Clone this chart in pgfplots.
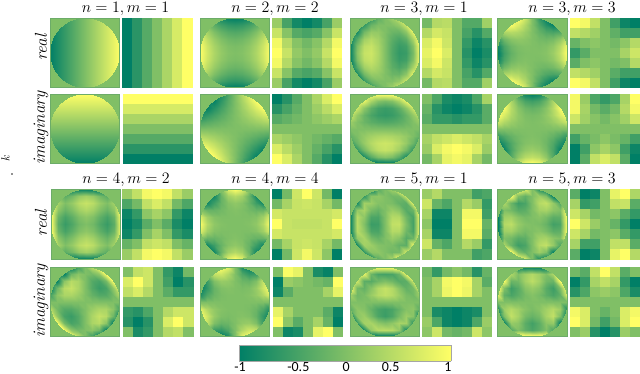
\documentclass[border=0pt]{standalone}
\usepackage{fontspec}
\newfontfamily\cbfont{Carlito}
\usepackage{pgfplots}
\pgfplotsset{compat=1.18}
\definecolor{bgz}{rgb}{0.5,0.75,0.4}
\definecolor{edgez}{RGB}{108,172,104}
\pgfplotsset{
  colormap={zern}{rgb255=(0,127,102) rgb255=(255,255,102)},
  panel/.style={hide axis, scale only axis, width=69.5bp, height=69.5bp, anchor=south west,
    colormap name=zern, point meta min=-1, point meta max=1},
}
% circle panel: 11x11 values, top row first, x and y from -1 to 1
\newcommand{\zcirc}[3]{%
  \fill[bgz] (#1bp,#2bp) rectangle ++(69.5bp,69.5bp);
  \begin{scope}
  \clip (#1bp+34.75bp,#2bp+34.75bp) circle[radius=34.75bp];
  \begin{axis}[panel, at={(#1bp,#2bp)}, xmin=-1, xmax=1, ymin=-1, ymax=1, view={0}{90}]
  \addplot3[surf, shader=interp, mesh/cols=11, point meta=z]
    table[row sep=\\, header=false, x expr={-1+0.2*mod(\coordindex,11)}, y expr={1-0.2*floor((\coordindex+0.5)/11)}, z index=0] {#3};
  \end{axis}
  \end{scope}
  \draw[edgez, line width=0.6bp] (#1bp,#2bp) rectangle ++(69.5bp,69.5bp);
}
% pixel panel: 7x7 values, top row first, one square per cell
\newcommand{\zpix}[3]{%
  \begin{axis}[panel, at={(#1bp,#2bp)}, xmin=-0.5, xmax=6.5, ymin=-0.5, ymax=6.5, y dir=reverse]
  \addplot[scatter, only marks, mark=square*, mark size=4.965bp, point meta=explicit,
    scatter/use mapped color={draw=mapped color, fill=mapped color}, line width=0.1bp]
    table[row sep=\\, header=false, x expr={mod(\coordindex,7)}, y expr={floor((\coordindex+0.5)/7)}, meta index=0] {#3};
  \end{axis}
}
\begin{document}
\begin{tikzpicture}
\path[use as bounding box] (0bp,0bp) rectangle (640bp,374bp);

% n=1, m=1
\zcirc{50}{286.5}{
-1\\-.8\\-.6\\-.4\\-.2\\0\\.2\\.4\\.6\\.8\\1\\
-1\\-.8\\-.6\\-.4\\-.2\\0\\.2\\.4\\.6\\.8\\1\\
-1\\-.8\\-.6\\-.4\\-.2\\0\\.2\\.4\\.6\\.8\\1\\
-1\\-.8\\-.6\\-.4\\-.2\\0\\.2\\.4\\.6\\.8\\1\\
-1\\-.8\\-.6\\-.4\\-.2\\0\\.2\\.4\\.6\\.8\\1\\
-1\\-.8\\-.6\\-.4\\-.2\\0\\.2\\.4\\.6\\.8\\1\\
-1\\-.8\\-.6\\-.4\\-.2\\0\\.2\\.4\\.6\\.8\\1\\
-1\\-.8\\-.6\\-.4\\-.2\\0\\.2\\.4\\.6\\.8\\1\\
-1\\-.8\\-.6\\-.4\\-.2\\0\\.2\\.4\\.6\\.8\\1\\
-1\\-.8\\-.6\\-.4\\-.2\\0\\.2\\.4\\.6\\.8\\1\\
-1\\-.8\\-.6\\-.4\\-.2\\0\\.2\\.4\\.6\\.8\\1\\}
\zpix{122.5}{286.5}{
-1\\-.67\\-.33\\0\\.33\\.67\\1\\
-1\\-.67\\-.33\\0\\.33\\.67\\1\\
-1\\-.67\\-.33\\0\\.33\\.67\\1\\
-1\\-.67\\-.33\\0\\.33\\.67\\1\\
-1\\-.67\\-.33\\0\\.33\\.67\\1\\
-1\\-.67\\-.33\\0\\.33\\.67\\1\\
-1\\-.67\\-.33\\0\\.33\\.67\\1\\}
\zcirc{50}{210.5}{
1\\1\\1\\1\\1\\1\\1\\1\\1\\1\\1\\
.8\\.8\\.8\\.8\\.8\\.8\\.8\\.8\\.8\\.8\\.8\\
.6\\.6\\.6\\.6\\.6\\.6\\.6\\.6\\.6\\.6\\.6\\
.4\\.4\\.4\\.4\\.4\\.4\\.4\\.4\\.4\\.4\\.4\\
.2\\.2\\.2\\.2\\.2\\.2\\.2\\.2\\.2\\.2\\.2\\
0\\0\\0\\0\\0\\0\\0\\0\\0\\0\\0\\
-.2\\-.2\\-.2\\-.2\\-.2\\-.2\\-.2\\-.2\\-.2\\-.2\\-.2\\
-.4\\-.4\\-.4\\-.4\\-.4\\-.4\\-.4\\-.4\\-.4\\-.4\\-.4\\
-.6\\-.6\\-.6\\-.6\\-.6\\-.6\\-.6\\-.6\\-.6\\-.6\\-.6\\
-.8\\-.8\\-.8\\-.8\\-.8\\-.8\\-.8\\-.8\\-.8\\-.8\\-.8\\
-1\\-1\\-1\\-1\\-1\\-1\\-1\\-1\\-1\\-1\\-1\\}
\zpix{123}{210.5}{
1\\1\\1\\1\\1\\1\\1\\
.67\\.67\\.67\\.67\\.67\\.67\\.67\\
.33\\.33\\.33\\.33\\.33\\.33\\.33\\
0\\0\\0\\0\\0\\0\\0\\
-.33\\-.33\\-.33\\-.33\\-.33\\-.33\\-.33\\
-.67\\-.67\\-.67\\-.67\\-.67\\-.67\\-.67\\
-1\\-1\\-1\\-1\\-1\\-1\\-1\\}

% n=2, m=2
\zcirc{200}{286.5}{
0\\-.36\\-.64\\-.84\\-.96\\-1\\-.96\\-.84\\-.64\\-.36\\0\\
.36\\0\\-.28\\-.48\\-.6\\-.64\\-.6\\-.48\\-.28\\0\\.36\\
.64\\.28\\0\\-.2\\-.32\\-.36\\-.32\\-.2\\0\\.28\\.64\\
.84\\.48\\.2\\0\\-.12\\-.16\\-.12\\0\\.2\\.48\\.84\\
.96\\.6\\.32\\.12\\0\\-.04\\0\\.12\\.32\\.6\\.96\\
1\\.64\\.36\\.16\\.04\\0\\.04\\.16\\.36\\.64\\1\\
.96\\.6\\.32\\.12\\0\\-.04\\0\\.12\\.32\\.6\\.96\\
.84\\.48\\.2\\0\\-.12\\-.16\\-.12\\0\\.2\\.48\\.84\\
.64\\.28\\0\\-.2\\-.32\\-.36\\-.32\\-.2\\0\\.28\\.64\\
.36\\0\\-.28\\-.48\\-.6\\-.64\\-.6\\-.48\\-.28\\0\\.36\\
0\\-.36\\-.64\\-.84\\-.96\\-1\\-.96\\-.84\\-.64\\-.36\\0\\}
\zpix{272}{286.5}{
.2\\-.45\\-.85\\-1\\-.85\\-.45\\.2\\
.56\\.05\\-.33\\-.44\\-.33\\.05\\.56\\
.89\\.4\\.05\\-.11\\.05\\.4\\.89\\
1\\.55\\.15\\0\\.15\\.55\\1\\
.89\\.4\\.05\\-.11\\.05\\.4\\.89\\
.56\\.05\\-.33\\-.44\\-.33\\.05\\.56\\
.2\\-.45\\-.85\\-1\\-.85\\-.45\\.2\\}
\zcirc{200}{210.5}{
-1\\-1\\-1\\-.8\\-.4\\0\\.4\\.8\\1\\1\\1\\
-1\\-.96\\-.96\\-.64\\-.32\\0\\.32\\.64\\.96\\1\\1\\
-1\\-.96\\-.72\\-.48\\-.24\\0\\.24\\.48\\.72\\.96\\1\\
-.8\\-.64\\-.48\\-.32\\-.16\\0\\.16\\.32\\.48\\.64\\.8\\
-.4\\-.32\\-.24\\-.16\\-.08\\0\\.08\\.16\\.24\\.32\\.4\\
0\\0\\0\\0\\0\\0\\0\\0\\0\\0\\0\\
.4\\.32\\.24\\.16\\.08\\0\\-.08\\-.16\\-.24\\-.32\\-.4\\
.8\\.64\\.48\\.32\\.16\\0\\-.16\\-.32\\-.48\\-.64\\-.8\\
1\\.96\\.72\\.48\\.24\\0\\-.24\\-.48\\-.72\\-.96\\-1\\
1\\1\\.96\\.64\\.32\\0\\-.32\\-.64\\-.96\\-1\\-1\\
1\\1\\1\\.8\\.4\\0\\-.4\\-.8\\-1\\-1\\-1\\}
\zpix{272}{210.5}{
-1\\-.7\\-.33\\0\\.33\\.7\\1\\
-.7\\-.45\\-.22\\0\\.22\\.45\\.7\\
-.33\\-.22\\-.11\\0\\.11\\.22\\.33\\
0\\0\\0\\0\\0\\0\\0\\
.33\\.22\\.11\\0\\-.11\\-.22\\-.33\\
.7\\.45\\.22\\0\\-.22\\-.45\\-.7\\
1\\.7\\.33\\0\\-.33\\-.7\\-1\\}

% n=3, m=1
\zcirc{350}{286.5}{
-1\\-1\\-1\\-.59\\-.22\\0\\.22\\.59\\1\\1\\1\\
-1\\-1\\-.6\\-.16\\-.01\\0\\.01\\.16\\.6\\1\\1\\
-1\\-.8\\-.1\\.18\\.16\\0\\-.16\\-.18\\.1\\.8\\1\\
-1\\-.32\\.26\\.42\\.28\\0\\-.28\\-.42\\-.26\\.32\\1\\
-1\\-.03\\.48\\.56\\.35\\0\\-.35\\-.56\\-.48\\.03\\1\\
-1\\.06\\.55\\.61\\.38\\0\\-.38\\-.61\\-.55\\-.06\\1\\
-1\\-.03\\.48\\.56\\.35\\0\\-.35\\-.56\\-.48\\.03\\1\\
-1\\-.32\\.26\\.42\\.28\\0\\-.28\\-.42\\-.26\\.32\\1\\
-1\\-.8\\-.1\\.18\\.16\\0\\-.16\\-.18\\.1\\.8\\1\\
-1\\-1\\-.6\\-.16\\-.01\\0\\.01\\.16\\.6\\1\\1\\
-1\\-1\\-1\\-.59\\-.22\\0\\.22\\.59\\1\\1\\1\\}
\zpix{422}{286.5}{
-.1\\.4\\.45\\0\\-.35\\-.35\\.25\\
.4\\.65\\.55\\0\\-.45\\-.7\\-.35\\
.7\\.9\\.6\\0\\-.6\\-.9\\-.7\\
.8\\1\\.7\\0\\-.7\\-1\\-.8\\
.7\\.9\\.6\\0\\-.6\\-.9\\-.7\\
.4\\.65\\.55\\0\\-.45\\-.7\\-.35\\
-.1\\.4\\.45\\0\\-.35\\-.35\\.25\\}
\zcirc{350}{210.5}{
1\\1\\1\\1\\1\\1\\1\\1\\1\\1\\1\\
1\\1\\.8\\.32\\.03\\-.06\\.03\\.32\\.8\\1\\1\\
1\\.6\\.1\\-.26\\-.48\\-.55\\-.48\\-.26\\.1\\.6\\1\\
.59\\.16\\-.18\\-.42\\-.56\\-.61\\-.56\\-.42\\-.18\\.16\\.59\\
.22\\.01\\-.16\\-.28\\-.35\\-.38\\-.35\\-.28\\-.16\\.01\\.22\\
0\\0\\0\\0\\0\\0\\0\\0\\0\\0\\0\\
-.22\\-.01\\.16\\.28\\.35\\.38\\.35\\.28\\.16\\-.01\\-.22\\
-.59\\-.16\\.18\\.42\\.56\\.61\\.56\\.42\\.18\\-.16\\-.59\\
-1\\-.6\\-.1\\.26\\.48\\.55\\.48\\.26\\-.1\\-.6\\-1\\
-1\\-1\\-.8\\-.32\\-.03\\.06\\-.03\\-.32\\-.8\\-1\\-1\\
-1\\-1\\-1\\-1\\-1\\-1\\-1\\-1\\-1\\-1\\-1\\}
\zpix{422}{210.5}{
0\\-.4\\-.8\\-.9\\-.8\\-.4\\.3\\
-.2\\-.7\\-.9\\-1\\-.9\\-.7\\-.3\\
-.3\\-.6\\-.6\\-.7\\-.6\\-.6\\-.3\\
0\\0\\0\\0\\0\\0\\0\\
.3\\.5\\.6\\.7\\.6\\.5\\.3\\
.2\\.7\\.9\\1\\.9\\.7\\.2\\
-.1\\.3\\.8\\.9\\.8\\.3\\-.1\\}

% n=3, m=3
\zcirc{497.5}{286.5}{
1\\1\\1\\1\\.59\\0\\-.59\\-1\\-1\\-1\\-1\\
.92\\1\\.94\\.7\\.38\\0\\-.38\\-.7\\-.94\\-1\\-.92\\
.08\\.35\\.43\\.37\\.21\\0\\-.21\\-.37\\-.43\\-.35\\-.08\\
-.52\\-.13\\.07\\.13\\.09\\0\\-.09\\-.13\\-.07\\.13\\.52\\
-.88\\-.42\\-.14\\-.02\\.02\\0\\-.02\\.02\\.14\\.42\\.88\\
-1\\-.51\\-.22\\-.06\\-.01\\0\\.01\\.06\\.22\\.51\\1\\
-.88\\-.42\\-.14\\-.02\\.02\\0\\-.02\\.02\\.14\\.42\\.88\\
-.52\\-.13\\.07\\.13\\.09\\0\\-.09\\-.13\\-.07\\.13\\.52\\
.08\\.35\\.43\\.37\\.21\\0\\-.21\\-.37\\-.43\\-.35\\-.08\\
.92\\1\\.94\\.7\\.38\\0\\-.38\\-.7\\-.94\\-1\\-.92\\
1\\1\\1\\1\\.59\\0\\-.59\\-1\\-1\\-1\\-1\\}
\zpix{570.5}{286.5}{
1\\.9\\.5\\0\\-.5\\-.9\\-1\\
.5\\.4\\.25\\0\\-.25\\-.5\\-.5\\
-.2\\0\\.1\\0\\-.1\\.1\\.4\\
-.6\\-.3\\0\\0\\0\\.3\\.6\\
-.3\\0\\.1\\0\\-.1\\0\\.4\\
.5\\.4\\.25\\0\\-.3\\-.5\\-.5\\
1\\.9\\.5\\0\\-.5\\-.9\\-1\\}
\zcirc{497.5}{210.5}{
1\\.92\\.08\\-.52\\-.88\\-1\\-.88\\-.52\\.08\\.92\\1\\
1\\1\\.35\\-.13\\-.42\\-.51\\-.42\\-.13\\.35\\1\\1\\
1\\.94\\.43\\.07\\-.14\\-.22\\-.14\\.07\\.43\\.94\\1\\
1\\.7\\.37\\.13\\-.02\\-.06\\-.02\\.13\\.37\\.7\\1\\
.59\\.38\\.21\\.09\\.02\\-.01\\.02\\.09\\.21\\.38\\.59\\
0\\0\\0\\0\\0\\0\\0\\0\\0\\0\\0\\
-.59\\-.38\\-.21\\-.09\\-.02\\.01\\-.02\\-.09\\-.21\\-.38\\-.59\\
-1\\-.7\\-.37\\-.13\\.02\\.06\\.02\\-.13\\-.37\\-.7\\-1\\
-1\\-.94\\-.43\\-.07\\.14\\.22\\.14\\-.07\\-.43\\-.94\\-1\\
-1\\-1\\-.35\\.13\\.42\\.51\\.42\\.13\\-.35\\-1\\-1\\
-1\\-.92\\-.08\\.52\\.88\\1\\.88\\.52\\-.08\\-.92\\-1\\}
\zpix{570.5}{210.5}{
.9\\.2\\-.4\\-.6\\-.4\\.3\\1\\
.9\\.3\\-.1\\-.3\\-.1\\.4\\.9\\
.6\\.25\\.05\\-.1\\.05\\.25\\.6\\
0\\0\\0\\0\\0\\0\\0\\
-.5\\-.2\\-.05\\.1\\-.05\\-.2\\-.5\\
-1\\-.5\\.1\\.3\\.1\\-.5\\-.9\\
-1\\-.3\\.5\\.7\\.5\\-.3\\-1\\}

% n=4, m=2
\zcirc{51}{115}{
0\\-1\\-1\\-1\\-1\\-1\\-1\\-1\\-1\\-1\\0\\
1\\0\\-.28\\-.1\\.17\\.28\\.17\\-.1\\-.28\\0\\1\\
1\\.28\\0\\.18\\.45\\.56\\.45\\.18\\0\\.28\\1\\
1\\.1\\-.18\\0\\.26\\.38\\.26\\0\\-.18\\.1\\1\\
1\\-.17\\-.45\\-.26\\0\\.11\\0\\-.26\\-.45\\-.17\\1\\
1\\-.28\\-.56\\-.38\\-.11\\0\\-.11\\-.38\\-.56\\-.28\\1\\
1\\-.17\\-.45\\-.26\\0\\.11\\0\\-.26\\-.45\\-.17\\1\\
1\\.1\\-.18\\0\\.26\\.38\\.26\\0\\-.18\\.1\\1\\
1\\.28\\0\\.18\\.45\\.56\\.45\\.18\\0\\.28\\1\\
1\\0\\-.28\\-.1\\.17\\.28\\.17\\-.1\\-.28\\0\\1\\
0\\-1\\-1\\-1\\-1\\-1\\-1\\-1\\-1\\-1\\0\\}
\zpix{122.5}{115}{
.2\\.5\\.9\\1\\.9\\.5\\.2\\
-.4\\-.1\\.5\\.7\\.5\\-.1\\-.4\\
-.9\\-.6\\.1\\.3\\.1\\-.6\\-.9\\
-1\\-.8\\-.3\\0\\-.3\\-.8\\-1\\
-.9\\-.6\\0\\.3\\0\\-.6\\-.8\\
-.2\\0\\.5\\.6\\.5\\0\\-.2\\
.2\\.5\\.9\\1\\.9\\.5\\.2\\}
\zcirc{50}{37.5}{
-1\\-1\\-1\\-1\\-.46\\0\\.46\\1\\1\\1\\1\\
-1\\-1\\-.96\\-.13\\.09\\0\\-.09\\.13\\.96\\1\\1\\
-1\\-.96\\.09\\.44\\.34\\0\\-.34\\-.44\\-.09\\.96\\1\\
-1\\-.13\\.44\\.55\\.35\\0\\-.35\\-.55\\-.44\\.13\\1\\
-.46\\.09\\.34\\.35\\.21\\0\\-.21\\-.35\\-.34\\-.09\\.46\\
0\\0\\0\\0\\0\\0\\0\\0\\0\\0\\0\\
.46\\-.09\\-.34\\-.35\\-.21\\0\\.21\\.35\\.34\\.09\\-.46\\
1\\.13\\-.44\\-.55\\-.35\\0\\.35\\.55\\.44\\-.13\\-1\\
1\\.96\\-.09\\-.44\\-.34\\0\\.34\\.44\\.09\\-.96\\-1\\
1\\1\\.96\\.13\\-.09\\0\\.09\\-.13\\-.96\\-1\\-1\\
1\\1\\1\\1\\.46\\0\\-.46\\-1\\-1\\-1\\-1\\}
\zpix{123.5}{37.5}{
0\\.5\\.6\\0\\-.6\\-.9\\-.1\\
.7\\1\\.6\\0\\-.5\\-1\\-.7\\
.5\\.7\\.4\\0\\-.3\\-.6\\-.6\\
0\\0\\0\\0\\0\\0\\0\\
-.6\\-.7\\-.4\\0\\.4\\.6\\.6\\
-.7\\-1\\-.7\\0\\.7\\1\\.6\\
0\\-.8\\-.6\\0\\.4\\.5\\0\\}

% n=4, m=4
\zcirc{200}{115}{
-1\\-1\\-1\\.07\\.76\\1\\.76\\.07\\-1\\-1\\-1\\
-1\\-1\\-.84\\-.18\\.26\\.41\\.26\\-.18\\-.84\\-1\\-1\\
-1\\-.84\\-.52\\-.19\\.04\\.13\\.04\\-.19\\-.52\\-.84\\-1\\
.07\\-.18\\-.19\\-.1\\-.01\\.03\\-.01\\-.1\\-.19\\-.18\\.07\\
.76\\.26\\.04\\-.01\\-.01\\0\\-.01\\-.01\\.04\\.26\\.76\\
1\\.41\\.13\\.03\\0\\0\\0\\.03\\.13\\.41\\1\\
.76\\.26\\.04\\-.01\\-.01\\0\\-.01\\-.01\\.04\\.26\\.76\\
.07\\-.18\\-.19\\-.1\\-.01\\.03\\-.01\\-.1\\-.19\\-.18\\.07\\
-1\\-.84\\-.52\\-.19\\.04\\.13\\.04\\-.19\\-.52\\-.84\\-1\\
-1\\-1\\-.84\\-.18\\.26\\.41\\.26\\-.18\\-.84\\-1\\-1\\
-1\\-1\\-1\\.07\\.76\\1\\.76\\.07\\-1\\-1\\-1\\}
\zpix{272}{115}{
-1\\-.1\\.6\\1\\.6\\-.1\\-1\\
-.1\\.3\\.55\\.6\\.55\\.3\\-.1\\
.65\\.55\\.55\\.55\\.55\\.55\\.65\\
1\\.55\\.5\\.5\\.5\\.55\\1\\
.65\\.55\\.55\\.55\\.55\\.55\\.65\\
-.1\\.3\\.55\\.6\\.55\\.3\\-.1\\
-1\\-.1\\.6\\.9\\.6\\.1\\-1\\}
\zcirc{200}{37.5}{
0\\1\\1\\1\\.77\\0\\-.77\\-1\\-1\\-1\\0\\
-1\\0\\.54\\.61\\.38\\0\\-.38\\-.61\\-.54\\0\\1\\
-1\\-.54\\0\\.19\\.15\\0\\-.15\\-.19\\0\\.54\\1\\
-1\\-.61\\-.19\\0\\.04\\0\\-.04\\0\\.19\\.61\\1\\
-.77\\-.38\\-.15\\-.04\\0\\0\\0\\.04\\.15\\.38\\.77\\
0\\0\\0\\0\\0\\0\\0\\0\\0\\0\\0\\
.77\\.38\\.15\\.04\\0\\0\\0\\-.04\\-.15\\-.38\\-.77\\
1\\.61\\.19\\0\\-.04\\0\\.04\\0\\-.19\\-.61\\-1\\
1\\.54\\0\\-.19\\-.15\\0\\.15\\.19\\0\\-.54\\-1\\
1\\0\\-.54\\-.61\\-.38\\0\\.38\\.61\\.54\\0\\-1\\
0\\-1\\-1\\-1\\-.77\\0\\.77\\1\\1\\1\\0\\}
\zpix{273}{37.5}{
0\\.95\\.8\\0\\-.8\\-.95\\0\\
-1\\.2\\.1\\0\\-.1\\-.2\\1\\
-.9\\-.3\\0\\0\\0\\.3\\.8\\
0\\0\\0\\0\\0\\0\\0\\
.8\\.3\\0\\0\\0\\-.3\\-.9\\
1\\.1\\-.3\\0\\.3\\-.2\\-1\\
0\\-.9\\-.8\\0\\.8\\1\\0\\}

% n=5, m=1
\zcirc{350}{115}{
-1\\-1\\-1\\-1\\-.27\\0\\.27\\1\\1\\1\\1\\
-1\\-1\\-.6\\.08\\.11\\0\\-.11\\-.08\\.6\\1\\1\\
-1\\-.8\\.28\\.22\\.04\\0\\-.04\\-.22\\-.28\\.8\\1\\
-1\\.16\\.32\\-.07\\-.2\\0\\.2\\.07\\-.32\\-.16\\1\\
-1\\.43\\.12\\-.4\\-.42\\0\\.42\\.4\\-.12\\-.43\\1\\
-1\\.46\\.01\\-.54\\-.51\\0\\.51\\.54\\-.01\\-.46\\1\\
-1\\.43\\.12\\-.4\\-.42\\0\\.42\\.4\\-.12\\-.43\\1\\
-1\\.16\\.32\\-.07\\-.2\\0\\.2\\.07\\-.32\\-.16\\1\\
-1\\-.8\\.28\\.22\\.04\\0\\-.04\\-.22\\-.28\\.8\\1\\
-1\\-1\\-.6\\.08\\.11\\0\\-.11\\-.08\\.6\\1\\1\\
-1\\-1\\-1\\-1\\-.27\\0\\.27\\1\\1\\1\\1\\}
\zpix{422}{115}{
.2\\.4\\0\\0\\0\\-.5\\-.4\\
.6\\-.2\\-.4\\0\\.4\\.2\\-.6\\
.3\\-.9\\-.9\\0\\.9\\.9\\-.5\\
.1\\-1\\-1\\0\\1\\1\\-.2\\
.3\\-.9\\-.9\\0\\.9\\.9\\-.3\\
.6\\-.2\\-.4\\0\\.4\\.2\\-.6\\
.2\\.4\\0\\0\\0\\-.5\\-.4\\}
\zcirc{350}{37.5}{
1\\1\\1\\1\\1\\1\\1\\1\\1\\1\\1\\
1\\1\\.8\\-.16\\-.43\\-.46\\-.43\\-.16\\.8\\1\\1\\
1\\.6\\-.28\\-.32\\-.12\\-.01\\-.12\\-.32\\-.28\\.6\\1\\
1\\-.08\\-.22\\.07\\.4\\.54\\.4\\.07\\-.22\\-.08\\1\\
.27\\-.11\\-.04\\.2\\.42\\.51\\.42\\.2\\-.04\\-.11\\.27\\
0\\0\\0\\0\\0\\0\\0\\0\\0\\0\\0\\
-.27\\.11\\.04\\-.2\\-.42\\-.51\\-.42\\-.2\\.04\\.11\\-.27\\
-1\\.08\\.22\\-.07\\-.4\\-.54\\-.4\\-.07\\.22\\.08\\-1\\
-1\\-.6\\.28\\.32\\.12\\.01\\.12\\.32\\.28\\-.6\\-1\\
-1\\-1\\-.8\\.16\\.43\\.46\\.43\\.16\\-.8\\-1\\-1\\
-1\\-1\\-1\\-1\\-1\\-1\\-1\\-1\\-1\\-1\\-1\\}
\zpix{422}{37.5}{
-.1\\-.6\\-.1\\.1\\-.1\\-.7\\-.2\\
0\\.3\\.9\\1\\.9\\.3\\-.3\\
0\\.3\\.85\\1\\.85\\.3\\0\\
0\\0\\0\\0\\0\\0\\0\\
0\\-.8\\-.9\\-1\\-.9\\-.8\\0\\
.2\\-.4\\-.9\\-1\\-.9\\-.4\\.2\\
.1\\.6\\-.1\\-.2\\-.1\\.6\\.1\\}

% n=5, m=3
\zcirc{497.5}{115}{
1\\1\\1\\1\\.71\\0\\-.71\\-1\\-1\\-1\\-1\\
1\\1\\.94\\0\\-.23\\0\\.23\\0\\-.94\\-1\\-1\\
.22\\.35\\-.17\\-.52\\-.42\\0\\.42\\.52\\.17\\-.35\\-.22\\
-.94\\0\\-.1\\-.31\\-.27\\0\\.27\\.31\\.1\\0\\.94\\
-1\\.25\\.28\\.06\\-.07\\0\\.07\\-.06\\-.28\\-.25\\1\\
-1\\.41\\.48\\.19\\.04\\0\\-.04\\-.19\\-.48\\-.41\\1\\
-1\\.25\\.28\\.06\\-.07\\0\\.07\\-.06\\-.28\\-.25\\1\\
-.94\\0\\-.1\\-.31\\-.27\\0\\.27\\.31\\.1\\0\\.94\\
.22\\.35\\-.17\\-.52\\-.42\\0\\.42\\.52\\.17\\-.35\\-.22\\
1\\1\\.94\\0\\-.23\\0\\.23\\0\\-.94\\-1\\-1\\
1\\1\\1\\1\\.71\\0\\-.71\\-1\\-1\\-1\\-1\\}
\zpix{570.5}{115}{
-.3\\-1\\-.9\\0\\.8\\1\\.35\\
.3\\-.6\\-.5\\0\\.5\\.55\\-.3\\
.6\\.3\\-.1\\0\\.1\\-.3\\-.6\\
1\\.6\\.2\\0\\-.2\\-.6\\-1\\
.6\\.3\\-.1\\0\\.1\\-.3\\-.6\\
.3\\-.5\\-.5\\0\\.5\\.5\\-.3\\
-.3\\-1\\-.9\\0\\.8\\1\\.4\\}
\zcirc{497.5}{37.5}{
1\\1\\.22\\-.94\\-1\\-1\\-1\\-.94\\.22\\1\\1\\
1\\1\\.35\\0\\.25\\.41\\.25\\0\\.35\\1\\1\\
1\\.94\\-.17\\-.1\\.28\\.48\\.28\\-.1\\-.17\\.94\\1\\
1\\0\\-.52\\-.31\\.06\\.19\\.06\\-.31\\-.52\\0\\1\\
.71\\-.23\\-.42\\-.27\\-.07\\.04\\-.07\\-.27\\-.42\\-.23\\.71\\
0\\0\\0\\0\\0\\0\\0\\0\\0\\0\\0\\
-.71\\.23\\.42\\.27\\.07\\-.04\\.07\\.27\\.42\\.23\\-.71\\
-1\\0\\.52\\.31\\-.06\\-.19\\-.06\\.31\\.52\\0\\-1\\
-1\\-.94\\.17\\.1\\-.28\\-.48\\-.28\\.1\\.17\\-.94\\-1\\
-1\\-1\\-.35\\0\\-.25\\-.41\\-.25\\0\\-.35\\-1\\-1\\
-1\\-1\\-.22\\.94\\1\\1\\1\\.94\\-.22\\-1\\-1\\}
\zpix{570.5}{37.5}{
-.1\\-.3\\.5\\1\\.5\\-.3\\0\\
-1\\-.6\\.3\\.5\\.3\\-.6\\-1\\
-.7\\-.4\\.1\\.2\\.1\\-.4\\-.8\\
0\\0\\0\\0\\0\\0\\0\\
.9\\.7\\0\\-.2\\0\\.7\\.9\\
1\\.7\\-.1\\-.5\\-.1\\.7\\1\\
0\\.2\\-.7\\-1\\-.7\\.2\\0\\}

% colour bar
\begin{axis}[scale only axis, width=212bp, height=16bp, anchor=south west, at={(239bp,13bp)},
  xmin=-1, xmax=1, ymin=0, ymax=1, view={0}{90}, colormap name=zern, point meta min=-1, point meta max=1,
  ytick=\empty, ztick=\empty, xtick={-.99,-.44,.01,.43,.97}, xticklabels={-1,-0.5,0,0.5,1},
  major tick length=0pt, axis line style={draw=gray!70, line width=0.5bp},
  xticklabel style={font=\cbfont\fontsize{14}{14}\selectfont, inner sep=0pt, yshift=-1bp}]
\addplot3[surf, shader=interp, mesh/cols=2, point meta=z] table {
x y z
-1 0 -1
1 0 1
-1 1 -1
1 1 1
};
\end{axis}

% titles
\foreach \tx/\ty/\tn/\tm in {125.5/361/1/1, 275/361/2/2, 424/361/3/1, 572/361/3/3,
                             126/190/4/2, 275/190/4/4, 424/190/5/1, 572/190/5/3}
  \node[font=\Large, scale=1.11, anchor=base, inner sep=0pt] at (\tx bp,\ty bp) {$n=\tn,m=\tm$};

% side labels
\foreach \ly/\lt in {326.5/real, 246/imaginary, 151/real, 73/imaginary}
  \node[rotate=90, font=\Large\itshape, scale=1.2, inner sep=0pt] at (41bp,\ly bp) {\lt};
\node[rotate=90, font=\large, inner sep=0pt] at (5.5bp,216bp) {$k$};
\node[scale=0.4, inner sep=0pt] at (12bp,199bp) {$\bullet$};
\end{tikzpicture}
\end{document}
